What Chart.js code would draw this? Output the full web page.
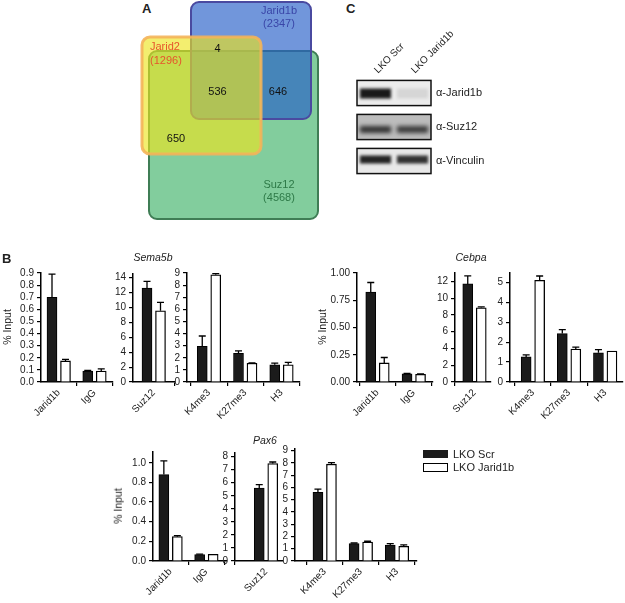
<!DOCTYPE html>
<html><head><meta charset="utf-8">
<script src="https://cdn.jsdelivr.net/npm/chart.js@4.4.1/dist/chart.umd.min.js"></script>
<style>
html,body{margin:0;padding:0;background:#fff;}
#root{position:relative;width:625px;height:603px;overflow:hidden;font-family:'Liberation Sans',Arial,sans-serif;color:#222;}
canvas{position:absolute;}
.t{position:absolute;white-space:nowrap;line-height:1;}
</style></head><body><div id="root"></div>
<script>
// ================= DATA =================
const series = ['LKO Scr', 'LKO Jarid1b'];
const catsBind = ['Jarid1b', 'IgG'];
const catsSuz = ['Suz12'];
const catsHist = ['K4me3', 'K27me3', 'H3'];
const genes = ['Sema5b', 'Cebpa', 'Pax6'];

// Sema5b
const sema5bBindScr = [0.70, 0.091], sema5bBindScrErr = [0.19, 0.004];
const sema5bBindKd = [0.174, 0.09], sema5bBindKdErr = [0.012, 0.018];
const sema5bSuzScr = [12.6], sema5bSuzScrErr = [0.9];
const sema5bSuzKd = [9.55], sema5bSuzKdErr = [1.15];
const sema5bHistScr = [2.95, 2.36, 1.42], sema5bHistScrErr = [0.85, 0.21, 0.14];
const sema5bHistKd = [8.85, 1.55, 1.42], sema5bHistKdErr = [0.1, 0.03, 0.2];
// Cebpa
const cebpaBindScr = [0.825, 0.075], cebpaBindScrErr = [0.088, 0.003];
const cebpaBindKd = [0.175, 0.07], cebpaBindKdErr = [0.05, 0.004];
const cebpaSuzScr = [11.7], cebpaSuzScrErr = [0.95];
const cebpaSuzKd = [8.85], cebpaSuzKdErr = [0.1];
const cebpaHistScr = [1.26, 2.43, 1.47], cebpaHistScrErr = [0.1, 0.2, 0.15];
const cebpaHistKd = [5.1, 1.65, 1.55], cebpaHistKdErr = [0.22, 0.1, 0.0];
// Pax6
const pax6BindScr = [0.88, 0.065], pax6BindScrErr = [0.14, 0.004];
const pax6BindKd = [0.248, 0.068], pax6BindKdErr = [0.01, 0.0];
const pax6SuzScr = [5.6], pax6SuzScrErr = [0.25];
const pax6SuzKd = [7.47], pax6SuzKdErr = [0.12];
const pax6HistScr = [5.6, 1.42, 1.3], pax6HistScrErr = [0.27, 0.05, 0.12];
const pax6HistKd = [7.9, 1.55, 1.2], pax6HistKdErr = [0.13, 0.06, 0.12];

// y tick labels
const ticks09 = [0, 0.1, 0.2, 0.3, 0.4, 0.5, 0.6, 0.7, 0.8, 0.9];
const ticks14 = [0, 2, 4, 6, 8, 10, 12, 14];
const ticks9 = [0, 1, 2, 3, 4, 5, 6, 7, 8, 9];
const ticks100 = [0, 0.25, 0.5, 0.75, 1.0];
const ticks12 = [0, 2, 4, 6, 8, 10, 12];
const ticks5 = [0, 1, 2, 3, 4, 5];
const ticks10 = [0, 0.2, 0.4, 0.6, 0.8, 1.0];
const ticks8 = [0, 1, 2, 3, 4, 5, 6, 7, 8];

// Venn
const vennSets = ['Jarid1b', 'Jarid2', 'Suz12'];
const vennTotals = [2347, 1296, 4568];
const vennOverlaps = [4, 536, 646, 650];

// Western blot
const blotLanes = ['LKO Scr', 'LKO Jarid1b'];
const blotProbes = ['\u03b1-Jarid1b', '\u03b1-Suz12', '\u03b1-Vinculin'];
const bandIntensity = [[0.97, 0.1], [0.8, 0.75], [0.92, 0.85]];

// ================= LAYOUT / STYLE =================
const FONT = "'Liberation Sans', Arial, sans-serif";
Chart.defaults.font.family = FONT;
Chart.defaults.color = '#222';
const root = document.getElementById('root');

function addText(txt, x, y, css) {
  const d = document.createElement('div');
  d.className = 't'; d.textContent = txt;
  d.style.left = x + 'px'; d.style.top = y + 'px';
  Object.assign(d.style, css || {});
  root.appendChild(d);
  return d;
}
function addCanvas(l, t, w, h) {
  const c = document.createElement('canvas');
  c.width = w; c.height = h;
  c.style.left = l + 'px'; c.style.top = t + 'px';
  c.style.width = w + 'px'; c.style.height = h + 'px';
  root.appendChild(c);
  return c;
}

const errPlugin = {
  id: 'errbars',
  afterDatasetsDraw(chart) {
    const ctx = chart.ctx, ys = chart.scales.y;
    chart.data.datasets.forEach((ds, di) => {
      const meta = chart.getDatasetMeta(di);
      meta.data.forEach((el, i) => {
        const e = ds.errs[i];
        if (!e) return;
        const yTop = ys.getPixelForValue(ds.data[i].y + e);
        ctx.save();
        ctx.strokeStyle = '#000'; ctx.lineWidth = 1.3;
        ctx.beginPath();
        ctx.moveTo(el.x, el.y); ctx.lineTo(el.x, yTop);
        ctx.moveTo(el.x - 3.5, yTop); ctx.lineTo(el.x + 3.5, yTop);
        ctx.stroke();
        ctx.restore();
      });
    });
  }
};

function makeBar(box, cats, yTicks, dec, ymax, scr, scrErr, kd, kdErr) {
  const YW = 46, XH = 60, PT = 8, PR = 2;
  const L = Math.round(box.L), W = Math.round(box.R - box.L);
  const T = Math.round(box.T), H = Math.round(box.B - box.T);
  const cv = addCanvas(L - YW, T - PT, W + YW + PR, H + PT + XH);
  const c = box.c, n = cats.length;
  const s = n > 1 ? (c[n - 1] - c[0]) / (n - 1) : 36;
  const xmin = -(c[0] - L) / s, xmax = (n - 1) + (L + W - c[n - 1]) / s;
  const d = 6.75 / s;
  const mk = (vals, errs, off, label, bg, bw) => ({
    label, data: vals.map((v, i) => ({ x: i + off, y: v })), errs,
    backgroundColor: bg, borderColor: '#000', borderWidth: bw,
    grouped: false, barPercentage: 1, categoryPercentage: 1, maxBarThickness: 10
  });
  new Chart(cv, {
    type: 'bar',
    data: { datasets: [mk(scr, scrErr, -d, series[0], '#1b1b1b', 1), mk(kd, kdErr, d, series[1], '#ffffff', 1.3)] },
    options: {
      responsive: false, animation: false, events: [],
      layout: { padding: { left: 0, right: PR, top: PT, bottom: 0 } },
      plugins: { legend: { display: false }, tooltip: { enabled: false } },
      scales: {
        x: {
          type: 'linear', min: xmin, max: xmax, offset: false,
          grid: { display: true, drawOnChartArea: false, drawTicks: true, tickLength: 4, color: '#000', lineWidth: 1.2 },
          border: { display: true, color: '#000', width: 1.5 },
          ticks: { autoSkip: false, minRotation: 45, maxRotation: 45, padding: 1, font: { size: 10 }, color: '#222',
                   callback: v => cats[Math.round(v)] ?? '' },
          afterBuildTicks: sc => { sc.ticks = cats.map((_, i) => ({ value: i })); },
          afterFit: sc => { sc.height = XH; sc.paddingLeft = 0; sc.paddingRight = 0; sc.paddingTop = 0; sc.paddingBottom = 0; }
        },
        y: {
          type: 'linear', min: 0, max: ymax,
          grid: { display: true, drawOnChartArea: false, drawTicks: true, tickLength: 4, color: '#000', lineWidth: 1.2 },
          border: { display: true, color: '#000', width: 1.5 },
          ticks: { autoSkip: false, padding: 3, font: { size: 10 }, color: '#222', callback: v => Number(v).toFixed(dec) },
          afterBuildTicks: sc => { sc.ticks = yTicks.map(v => ({ value: v })); },
          afterFit: sc => { sc.width = YW; sc.paddingTop = 0; sc.paddingBottom = 0; sc.paddingLeft = 0; sc.paddingRight = 0; }
        }
      }
    },
    plugins: [errPlugin]
  });
}

// ---- panel B charts ----
makeBar({ L: 41, R: 113, T: 273, B: 382, c: [58.75, 94.5] }, catsBind, ticks09, 1, 0.9,
  sema5bBindScr, sema5bBindScrErr, sema5bBindKd, sema5bBindKdErr);
makeBar({ L: 133, R: 175, T: 274, B: 382, c: [153.75] }, catsSuz, ticks14, 0, 14.5,
  sema5bSuzScr, sema5bSuzScrErr, sema5bSuzKd, sema5bSuzKdErr);
makeBar({ L: 187, R: 300, T: 273, B: 382, c: [209, 245.5, 281.5] }, catsHist, ticks9, 0, 9,
  sema5bHistScr, sema5bHistScrErr, sema5bHistKd, sema5bHistKdErr);
makeBar({ L: 357, R: 433, T: 273, B: 382, c: [377.5, 413.8] }, catsBind, ticks100, 2, 1.0,
  cebpaBindScr, cebpaBindScrErr, cebpaBindKd, cebpaBindKdErr);
makeBar({ L: 455, R: 491, T: 273, B: 382, c: [474.5] }, catsSuz, ticks12, 0, 13,
  cebpaSuzScr, cebpaSuzScrErr, cebpaSuzKd, cebpaSuzKdErr);
makeBar({ L: 510, R: 623, T: 273, B: 382, c: [532.9, 568.8, 605.2] }, catsHist, ticks5, 0, 5.47,
  cebpaHistScr, cebpaHistScrErr, cebpaHistKd, cebpaHistKdErr);
makeBar({ L: 153, R: 227, T: 452, B: 561, c: [170.6, 206.4] }, catsBind, ticks10, 1, 1.11,
  pax6BindScr, pax6BindScrErr, pax6BindKd, pax6BindKdErr);
makeBar({ L: 235, R: 283, T: 453, B: 561, c: [266] }, catsSuz, ticks8, 0, 8.28,
  pax6SuzScr, pax6SuzScrErr, pax6SuzKd, pax6SuzKdErr);
makeBar({ L: 295, R: 417, T: 449, B: 561, c: [324.7, 361, 397] }, catsHist, ticks9, 0, 9.14,
  pax6HistScr, pax6HistScrErr, pax6HistKd, pax6HistKdErr);

// titles / labels
const ital = { fontStyle: 'italic', fontSize: '10.5px', transform: 'translate(-50%,-50%)' };
addText(genes[0], 153, 257, ital);
addText(genes[1], 471, 257, ital);
addText(genes[2], 265, 440, ital);
const yl = { fontSize: '10.5px', transform: 'translate(-50%,-50%) rotate(-90deg)' };
addText('% Input', 7, 327, yl);
addText('% Input', 322, 327, yl);
addText('% Input', 118, 506, yl);
const bold = { fontWeight: 'bold', fontSize: '13px' };
addText('A', 142, 2, bold);
addText('B', 2, 252, bold);
addText('C', 346, 2, bold);

// legend
addText('', 423, 450, { width: '25px', height: '8px', background: '#1b1b1b' });
addText('', 423, 463, { width: '23px', height: '7px', border: '1px solid #000', background: '#fff' });
addText(series[0], 453, 449, { fontSize: '11px' });
addText(series[1], 453, 462, { fontSize: '11px' });

// ---- panel A: Venn ----
const vennGeom = [
  { rect: [191, 2, 311, 119], fill: 'rgba(40,95,200,0.66)', stroke: '#4a4aa0', lw: 2 },   // Jarid1b
  { rect: [142, 37, 261, 154], fill: 'rgba(236,228,30,0.64)', stroke: 'rgba(244,180,90,0.9)', lw: 3 }, // Jarid2
  { rect: [149, 51, 318, 219], fill: 'rgba(108,196,140,0.85)', stroke: '#3f7d55', lw: 2 }   // Suz12
];
const vennDrawOrder = [2, 0, 1];
const vennLabelPos = [
  { name: [279, 11], total: [279, 24], color: '#3a46a8', align: 'center' },
  { name: [150, 47], total: [150, 60.5], color: '#e6562c', align: 'left' },
  { name: [279, 184.5], total: [279, 197.5], color: '#2e7a48', align: 'center' }
];
const vennOverlapPos = [[217.5, 49], [217.5, 91.5], [278, 91.5], [176, 139]];
const vennPlugin = {
  id: 'venn',
  afterDraw(chart) {
    const { ctx, scales: { x, y } } = chart;
    vennDrawOrder.forEach(k => {
      const g = vennGeom[k];
      const x0 = x.getPixelForValue(g.rect[0]), x1 = x.getPixelForValue(g.rect[2]);
      const y0 = y.getPixelForValue(g.rect[1]), y1 = y.getPixelForValue(g.rect[3]);
      ctx.save();
      ctx.beginPath(); ctx.roundRect(x0, y0, x1 - x0, y1 - y0, 8);
      ctx.fillStyle = g.fill; ctx.fill();
      ctx.lineWidth = g.lw; ctx.strokeStyle = g.stroke; ctx.stroke();
      ctx.restore();
    });
    ctx.save();
    ctx.font = '11px ' + FONT; ctx.textBaseline = 'middle';
    vennSets.forEach((nm, k) => {
      const p = vennLabelPos[k];
      ctx.fillStyle = p.color; ctx.textAlign = p.align;
      ctx.fillText(nm, x.getPixelForValue(p.name[0]), y.getPixelForValue(p.name[1]));
      ctx.fillText('(' + vennTotals[k] + ')', x.getPixelForValue(p.total[0]), y.getPixelForValue(p.total[1]));
    });
    ctx.fillStyle = '#111'; ctx.textAlign = 'center';
    vennOverlaps.forEach((v, k) => {
      const p = vennOverlapPos[k];
      ctx.fillText(String(v), x.getPixelForValue(p[0]), y.getPixelForValue(p[1]));
    });
    ctx.restore();
  }
};
new Chart(addCanvas(130, 0, 200, 225), {
  type: 'scatter',
  data: { datasets: [] },
  options: {
    responsive: false, animation: false, events: [],
    layout: { padding: 0 },
    plugins: { legend: { display: false }, tooltip: { enabled: false } },
    scales: {
      x: { type: 'linear', min: 130, max: 330, display: false },
      y: { type: 'linear', min: 0, max: 225, reverse: true, display: false }
    }
  },
  plugins: [vennPlugin]
});

// ---- panel C: western blot ----
const blotStyle = [
  { bg: '#ececec', h: 10, dy: 0.5, blur: 1.6 },
  { bg: '#bcbcbc', h: 7, dy: 2.5, blur: 2.2 },
  { bg: '#e8e8e8', h: 8, dy: -1.5, blur: 1.5 }
];
const blotPlugin = {
  id: 'blot',
  afterDraw(chart) {
    const { ctx, chartArea: a, scales: { x, y } } = chart;
    const rowH = (y.getPixelForValue(1) - y.getPixelForValue(0)) * 0.74;
    const laneW = x.getPixelForValue(1) - x.getPixelForValue(0);
    blotProbes.forEach((p, r) => {
      const yc = y.getPixelForValue(r), st = blotStyle[r], top = yc - rowH / 2;
      ctx.save();
      ctx.beginPath(); ctx.rect(a.left, top, a.right - a.left, rowH); ctx.clip();
      ctx.fillStyle = st.bg; ctx.fillRect(a.left, top, a.right - a.left, rowH);
      ctx.filter = 'blur(' + st.blur + 'px)';
      blotLanes.forEach((l, k) => {
        const xc = x.getPixelForValue(k);
        ctx.fillStyle = 'rgba(18,18,18,' + bandIntensity[r][k] + ')';
        ctx.fillRect(xc - laneW * 0.42, yc + st.dy - st.h / 2, laneW * 0.84, st.h);
      });
      ctx.restore();
      ctx.save();
      ctx.strokeStyle = '#111'; ctx.lineWidth = 1.5;
      ctx.strokeRect(a.left, top, a.right - a.left, rowH);
      ctx.restore();
    });
  }
};
new Chart(addCanvas(340, 0, 285, 200), {
  type: 'bar',
  data: { labels: blotLanes, datasets: [] },
  options: {
    responsive: false, animation: false, events: [],
    layout: { padding: { left: 17, right: 0, top: 0, bottom: 22 } },
    plugins: { legend: { display: false }, tooltip: { enabled: false } },
    scales: {
      x: {
        type: 'category', labels: blotLanes, position: 'top', offset: true,
        grid: { display: false, drawTicks: false }, border: { display: false },
        ticks: { minRotation: 45, maxRotation: 45, padding: 0, labelOffset: 9, font: { size: 10 }, color: '#222', autoSkip: false },
        afterFit: sc => { sc.height = 76; sc.paddingLeft = 0; sc.paddingRight = 0; sc.paddingTop = 0; sc.paddingBottom = 0; }
      },
      y: {
        type: 'category', labels: blotProbes, position: 'right', offset: true,
        grid: { display: false, drawTicks: false }, border: { display: false },
        ticks: { padding: 5, font: { size: 11 }, color: '#222', autoSkip: false },
        afterFit: sc => { sc.width = 194; sc.paddingTop = 0; sc.paddingBottom = 0; sc.paddingLeft = 0; sc.paddingRight = 0; }
      }
    }
  },
  plugins: [blotPlugin]
});
</script></body></html>
